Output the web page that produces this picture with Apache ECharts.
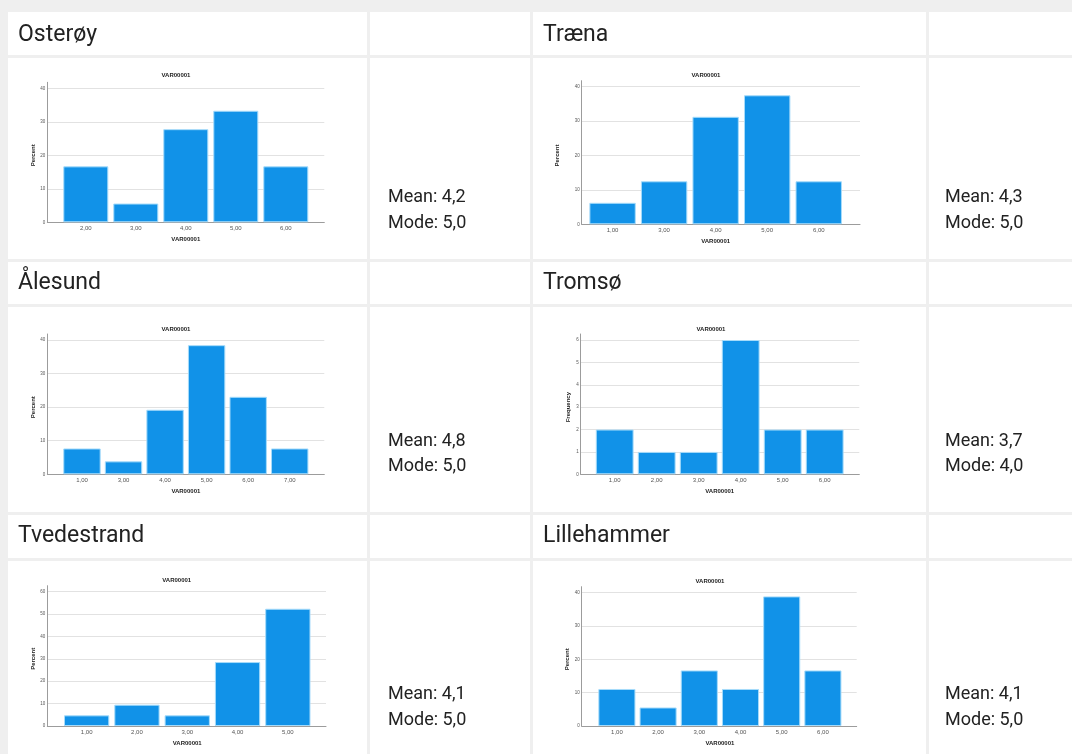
<!DOCTYPE html>
<html><head><meta charset="utf-8">
<script src="https://cdn.jsdelivr.net/npm/echarts@6/dist/echarts.min.js"></script>
<style>html,body{margin:0;padding:0;background:#efefef;}#c{width:1072px;height:754px;}</style>
</head><body><div id="c"></div>
<script>
// ---- data ----
const places = ['Osterøy', 'Træna', 'Ålesund', 'Tromsø', 'Tvedestrand', 'Lillehammer'];
const catsOsteroy = ['2,00', '3,00', '4,00', '5,00', '6,00'];
const valsOsteroy = [16.7, 5.6, 27.8, 33.3, 16.7];
const catsTraena = ['1,00', '3,00', '4,00', '5,00', '6,00'];
const valsTraena = [6.25, 12.5, 31.25, 37.5, 12.5];
const catsAlesund = ['1,00', '3,00', '4,00', '5,00', '6,00', '7,00'];
const valsAlesund = [7.69, 3.85, 19.23, 38.46, 23.08, 7.69];
const catsTromso = ['1,00', '2,00', '3,00', '4,00', '5,00', '6,00'];
const valsTromso = [2, 1, 1, 6, 2, 2];
const catsTvedestrand = ['1,00', '2,00', '3,00', '4,00', '5,00'];
const valsTvedestrand = [4.76, 9.52, 4.76, 28.57, 52.38];
const catsLillehammer = ['1,00', '2,00', '3,00', '4,00', '5,00', '6,00'];
const valsLillehammer = [11.11, 5.56, 16.67, 11.11, 38.89, 16.67];
const yNames = ['Percent', 'Percent', 'Percent', 'Frequency', 'Percent', 'Percent'];
const yMax = [40, 40, 40, 6, 60, 40];
const yInterval = [10, 10, 10, 1, 10, 10];
const chartTitle = 'VAR00001';
const xName = 'VAR00001';
const means = ['4,2', '4,3', '4,8', '3,7', '4,1', '4,1'];
const modes = ['5,0', '5,0', '5,0', '4,0', '5,0', '5,0'];

const allCats = [catsOsteroy, catsTraena, catsAlesund, catsTromso, catsTvedestrand, catsLillehammer];
const allVals = [valsOsteroy, valsTraena, valsAlesund, valsTromso, valsTvedestrand, valsLillehammer];

// ---- layout (pixels) ----
const W = 1072, H = 754;
const L = [
  {ax: 47.3, rx: 324.3, ty: 88.3, by: 222.3, bs: 60.8, be: 310.8, tx: 176, tt: 75.7, ng: 11},
  {ax: 581.7, rx: 860, ty: 86.7, by: 224.3, bs: 586.8, be: 844.5, tx: 706, tt: 75, ng: 21},
  {ax: 47.3, rx: 324.3, ty: 340, by: 474.3, bs: 61.2, be: 310.5, tx: 176, tt: 329, ng: 11},
  {ax: 580.7, rx: 859.3, ty: 340, by: 474.3, bs: 593.7, be: 845.7, tx: 711, tt: 329, ng: 9},
  {ax: 47.3, rx: 326, ty: 591.7, by: 726, bs: 61.5, be: 313, tx: 176.7, tt: 580, ng: 10.5},
  {ax: 581.7, rx: 856.7, ty: 592.7, by: 726, bs: 596.3, be: 843.5, tx: 710, tt: 581, ng: 10}
];
const rowTitleTop = [12, 262, 515], rowTitleH = [43, 42, 43];
const rowChartTop = [58, 307, 561], rowChartH = [201, 205, 200];
const cols = [
  {tx: 8, tw: 359, sx: 370, sw: 160, textX: 18, statX: 388},
  {tx: 533, tw: 393, sx: 929, sw: 150, textX: 543, statX: 945}
];
const nameY = [35, 283, 536.5];
const meanY = [197, 441, 694];
const modeY = [223, 466, 720];

const small = 'Liberation Sans, Arial, sans-serif';
const big = 'Roboto, sans-serif';

const grid = [], xAxis = [], yAxis = [], series = [], graphic = [];

// cells
for (let r = 0; r < 3; r++) {
  for (const c of cols) {
    graphic.push({type: 'rect', z: -5, silent: true, shape: {x: c.tx, y: rowTitleTop[r], width: c.tw, height: rowTitleH[r]}, style: {fill: '#fff'}});
    graphic.push({type: 'rect', z: -5, silent: true, shape: {x: c.sx, y: rowTitleTop[r], width: c.sw, height: rowTitleH[r]}, style: {fill: '#fff'}});
    graphic.push({type: 'rect', z: -5, silent: true, shape: {x: c.tx, y: rowChartTop[r], width: c.tw, height: rowChartH[r]}, style: {fill: '#fff'}});
    graphic.push({type: 'rect', z: -5, silent: true, shape: {x: c.sx, y: rowChartTop[r], width: c.sw, height: rowChartH[r]}, style: {fill: '#fff'}});
  }
}

for (let i = 0; i < 6; i++) {
  const g = L[i];
  const r = Math.floor(i / 2), c = cols[i % 2];
  // wide grid: gridlines, y labels, bottom axis line
  grid.push({left: g.ax, right: W - g.rx, top: g.ty, bottom: H - g.by});
  xAxis.push({gridIndex: 3 * i, type: 'category', data: [''],
    axisLine: {show: true, lineStyle: {color: '#9c9c9c', width: 1}},
    axisTick: {show: false}, axisLabel: {show: false}, splitLine: {show: false}});
  yAxis.push({gridIndex: 3 * i, type: 'value', min: 0, max: yMax[i], interval: yInterval[i],
    name: yNames[i], nameLocation: 'middle', nameGap: g.ng,
    nameTextStyle: {fontFamily: small, fontSize: 6, fontWeight: 'bold', color: '#222'},
    axisLine: {show: false}, axisTick: {show: false},
    axisLabel: {fontFamily: small, fontSize: 4.5, color: '#555', margin: 2},
    splitLine: {show: true, lineStyle: {color: '#e2e2e2', width: 1}}});
  // y axis line grid (extends above top gridline)
  grid.push({left: g.ax, width: 10, top: g.ty - 6, bottom: H - g.by});
  xAxis.push({gridIndex: 3 * i + 1, type: 'value', show: false});
  yAxis.push({gridIndex: 3 * i + 1, type: 'value', min: 0, max: 1,
    axisLine: {show: true, lineStyle: {color: '#9c9c9c', width: 1}},
    axisTick: {show: false}, axisLabel: {show: false}, splitLine: {show: false}});
  // band grid: bars
  grid.push({left: g.bs, right: W - g.be, top: g.ty, bottom: H - g.by});
  xAxis.push({gridIndex: 3 * i + 2, type: 'category', data: allCats[i],
    axisLine: {show: false}, axisTick: {show: false},
    axisLabel: {interval: 0, fontFamily: small, fontSize: 6, color: '#555', margin: 3},
    name: xName, nameLocation: 'middle', nameGap: 14.5,
    nameTextStyle: {fontFamily: small, fontSize: 6, fontWeight: 'bold', color: '#222'}});
  yAxis.push({gridIndex: 3 * i + 2, type: 'value', min: 0, max: yMax[i], show: false});
  series.push({type: 'bar', xAxisIndex: 3 * i + 2, yAxisIndex: 3 * i + 2, data: allVals[i],
    barCategoryGap: '10%', silent: true,
    itemStyle: {color: '#1192e8', borderColor: '#a6dbfa', borderWidth: 1}});

  graphic.push({type: 'text', z: 10, silent: true, x: g.tx, y: g.tt,
    style: {text: chartTitle, font: 'bold 6px ' + small, fill: '#222', align: 'center', verticalAlign: 'middle'}});
  graphic.push({type: 'text', z: 10, silent: true, x: c.textX, y: nameY[r],
    style: {text: places[i], font: '23px ' + big, fill: '#222', align: 'left', verticalAlign: 'middle'}});
  graphic.push({type: 'text', z: 10, silent: true, x: c.statX, y: meanY[r],
    style: {text: 'Mean: ' + means[i], font: '18px ' + big, fill: '#222', align: 'left', verticalAlign: 'middle'}});
  graphic.push({type: 'text', z: 10, silent: true, x: c.statX, y: modeY[r],
    style: {text: 'Mode: ' + modes[i], font: '18px ' + big, fill: '#222', align: 'left', verticalAlign: 'middle'}});
}

const chart = echarts.init(document.getElementById('c'), null, {renderer: 'canvas'});
chart.setOption({
  backgroundColor: '#efefef',
  animation: false,
  grid, xAxis, yAxis, series, graphic
});
</script>
</body></html>
